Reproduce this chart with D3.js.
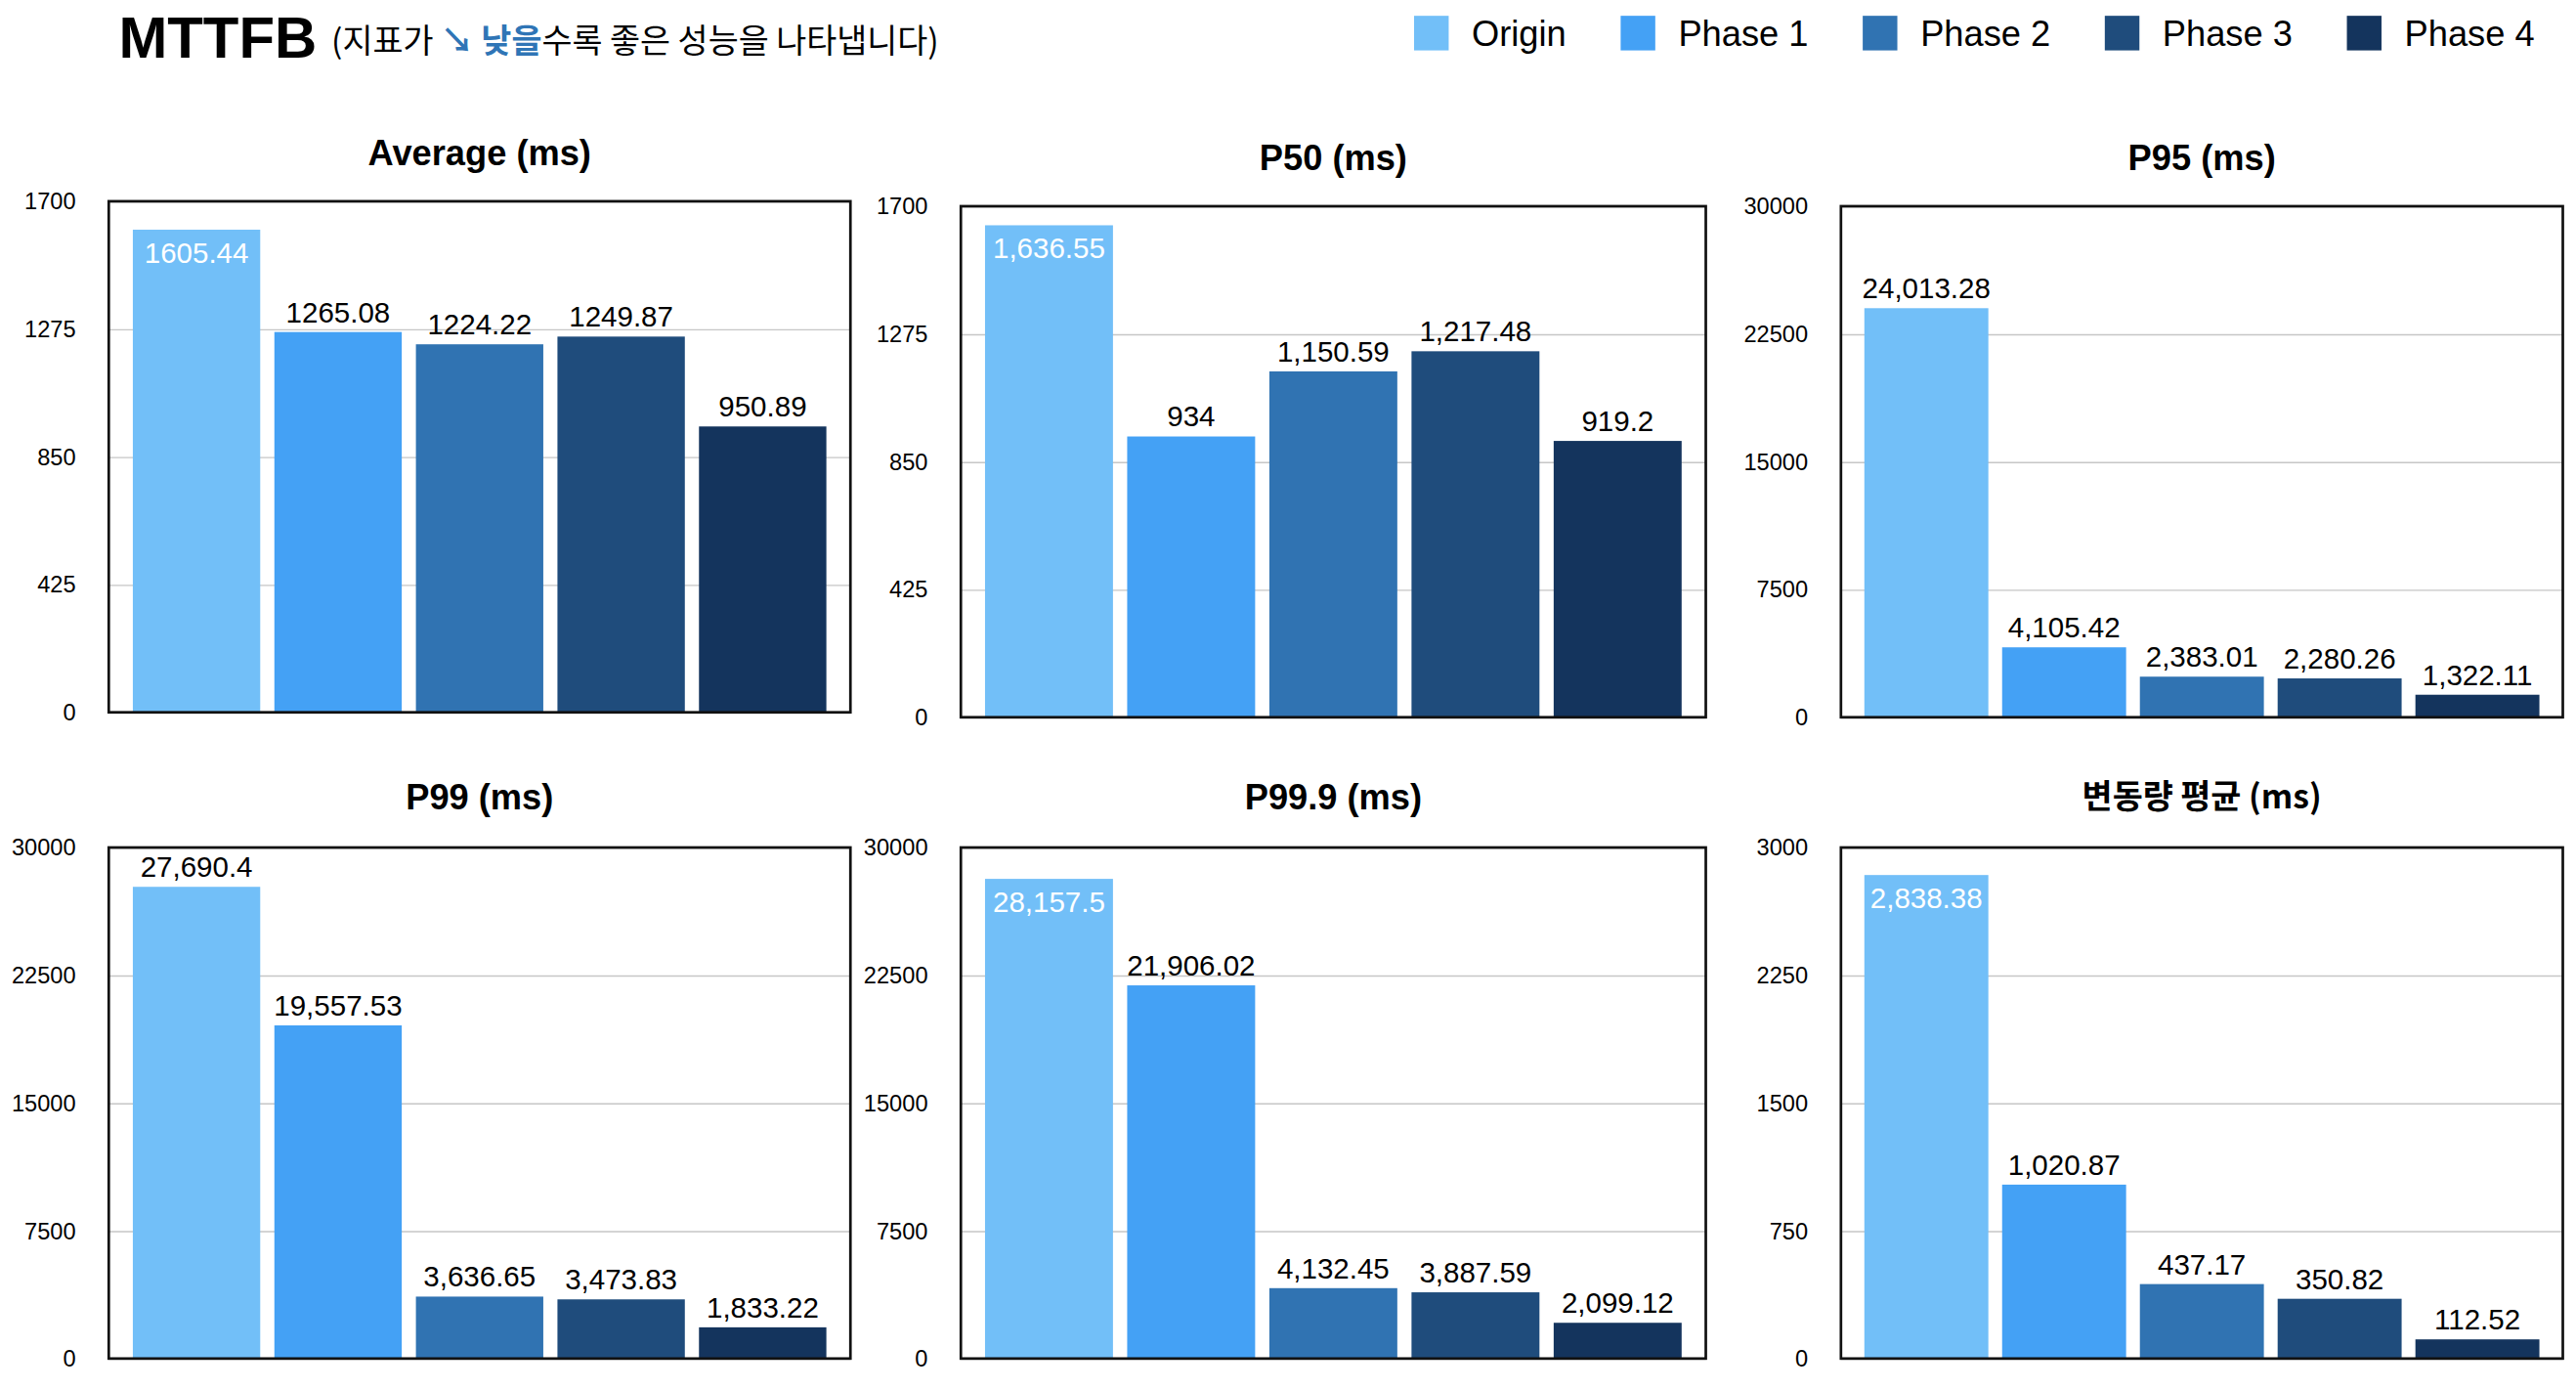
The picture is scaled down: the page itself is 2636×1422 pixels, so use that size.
<!DOCTYPE html>
<html>
<head>
<meta charset="utf-8">
<script src="https://cdn.jsdelivr.net/npm/d3@7"></script>
<style>
  html, body { margin: 0; padding: 0; background: #fff; }
  svg { display: block; }
  text { font-family: "Liberation Sans", Arial, sans-serif; }
  .kr { font-family: "Noto Sans CJK KR", "Liberation Sans", sans-serif; }
</style>
</head>
<body>
<svg id="chart"></svg>
<script>
// data
const phases = ['Origin', 'Phase 1', 'Phase 2', 'Phase 3', 'Phase 4'];
const panelTitles = ['Average (ms)', 'P50 (ms)', 'P95 (ms)', 'P99 (ms)', 'P99.9 (ms)', '변동량 평균 (ms)'];
const averageValues = [1605.44, 1265.08, 1224.22, 1249.87, 950.89];
const p50Values = [1636.55, 934, 1150.59, 1217.48, 919.2];
const p95Values = [24013.28, 4105.42, 2383.01, 2280.26, 1322.11];
const p99Values = [27690.4, 19557.53, 3636.65, 3473.83, 1833.22];
const p999Values = [28157.5, 21906.02, 4132.45, 3887.59, 2099.12];
const deviationValues = [2838.38, 1020.87, 437.17, 350.82, 112.52];
const yMax = [1700, 1700, 30000, 30000, 30000, 3000];
const groupThousands = [false, true, true, true, true, true];

const seriesList = [averageValues, p50Values, p95Values, p99Values, p999Values, deviationValues];

const colors = ['#72bff8', '#44a1f5', '#3073b2', '#1f4c7c', '#14345d'];
const color = d3.scaleOrdinal().domain(phases).range(colors);

// layout, in a 1563 x 843 design space
const W = 1563, H = 843;
const layout = [
  { x0: 66,   x1: 516,  y0: 122, y1: 432, ty: 100 },
  { x0: 583,  x1: 1035, y0: 125, y1: 435, ty: 103 },
  { x0: 1117, x1: 1555, y0: 125, y1: 435, ty: 103 },
  { x0: 66,   x1: 516,  y0: 514, y1: 824, ty: 491 },
  { x0: 583,  x1: 1035, y0: 514, y1: 824, ty: 491 },
  { x0: 1117, x1: 1555, y0: 514, y1: 824, ty: 490 }
];

const svg = d3.select('#chart')
  .attr('width', 2636)
  .attr('height', 1422)
  .attr('viewBox', `0 0 ${W} ${H}`);

// header
svg.append('text')
  .attr('x', 72)
  .attr('y', 35)
  .attr('font-weight', 'bold')
  .attr('font-size', 35.5)
  .text('MTTFB');

const sub = svg.append('text')
  .attr('class', 'kr')
  .attr('x', 201)
  .attr('y', 32)
  .attr('font-size', 20)
  .attr('fill', '#000');
sub.append('tspan').text('(지표가 ');
sub.append('tspan').attr('fill', '#2f75b6').attr('font-weight', 'bold').text('↘ 낮을');
sub.append('tspan').text('수록 좋은 성능을 나타냅니다)');

// legend
const legend = svg.append('g').attr('transform', 'translate(858,0)');
let lx = 0;
phases.forEach(function (p) {
  const g = legend.append('g').attr('transform', `translate(${lx},0)`);
  g.append('rect')
    .attr('x', 0).attr('y', 9.5)
    .attr('width', 21).attr('height', 21)
    .attr('fill', color(p));
  const t = g.append('text')
    .attr('x', 35).attr('y', 28)
    .attr('font-size', 21.5)
    .text(p);
  lx += 35 + t.node().getComputedTextLength() + 33;
});

// panels
seriesList.forEach(function (values, i) {
  const L = layout[i];
  const w = L.x1 - L.x0, h = L.y1 - L.y0;
  const g = svg.append('g').attr('transform', `translate(${L.x0},${L.y0})`);

  const x = d3.scaleBand().domain(phases).range([0, w]).paddingInner(0.1).paddingOuter(0.17);
  const y = d3.scaleLinear().domain([0, yMax[i]]).range([h, 0]);
  const ticks = d3.range(0, 5).map(function (k) { return yMax[i] * k / 4; });

  // gridlines
  g.append('g')
    .call(d3.axisLeft(y).tickValues(ticks).tickSize(-w).tickFormat(''))
    .call(function (a) { a.select('.domain').remove(); })
    .selectAll('line')
    .attr('stroke', '#c6c6c6')
    .attr('stroke-width', 0.8);

  // tick labels
  g.append('g')
    .attr('transform', 'translate(-17,0)')
    .call(d3.axisLeft(y).tickValues(ticks).tickSize(0).tickFormat(d3.format('d')))
    .call(function (a) { a.select('.domain').remove(); })
    .selectAll('text')
    .attr('font-family', '"Liberation Sans", Arial, sans-serif')
    .attr('font-size', 14)
    .attr('fill', '#000');

  // bars
  g.selectAll('rect.bar')
    .data(values)
    .join('rect')
    .attr('class', 'bar')
    .attr('x', function (d, j) { return x(phases[j]); })
    .attr('width', x.bandwidth())
    .attr('y', function (d) { return y(d); })
    .attr('height', function (d) { return h - y(d); })
    .attr('fill', function (d, j) { return color(phases[j]); });

  // value labels
  const fmt = groupThousands[i] ? d3.format(',') : d3.format('');
  g.selectAll('text.val')
    .data(values)
    .join('text')
    .attr('class', 'val')
    .attr('text-anchor', 'middle')
    .attr('font-size', 17.5)
    .attr('x', function (d, j) { return x(phases[j]) + x.bandwidth() / 2; })
    .attr('y', function (d) { return y(d) < 21 ? y(d) + 20 : y(d) - 6; })
    .attr('fill', function (d) { return y(d) < 21 ? '#fff' : '#000'; })
    .text(function (d) { return fmt(d); });

  // frame
  g.append('rect')
    .attr('width', w).attr('height', h)
    .attr('fill', 'none')
    .attr('stroke', '#111')
    .attr('stroke-width', 1.6);

  // title
  svg.append('text')
    .attr('class', i === 5 ? 'kr' : null)
    .attr('x', (L.x0 + L.x1) / 2)
    .attr('y', L.ty)
    .attr('text-anchor', 'middle')
    .attr('font-weight', 'bold')
    .attr('font-size', i === 5 ? 20 : 21.5)
    .text(panelTitles[i]);
});
</script>
</body>
</html>
